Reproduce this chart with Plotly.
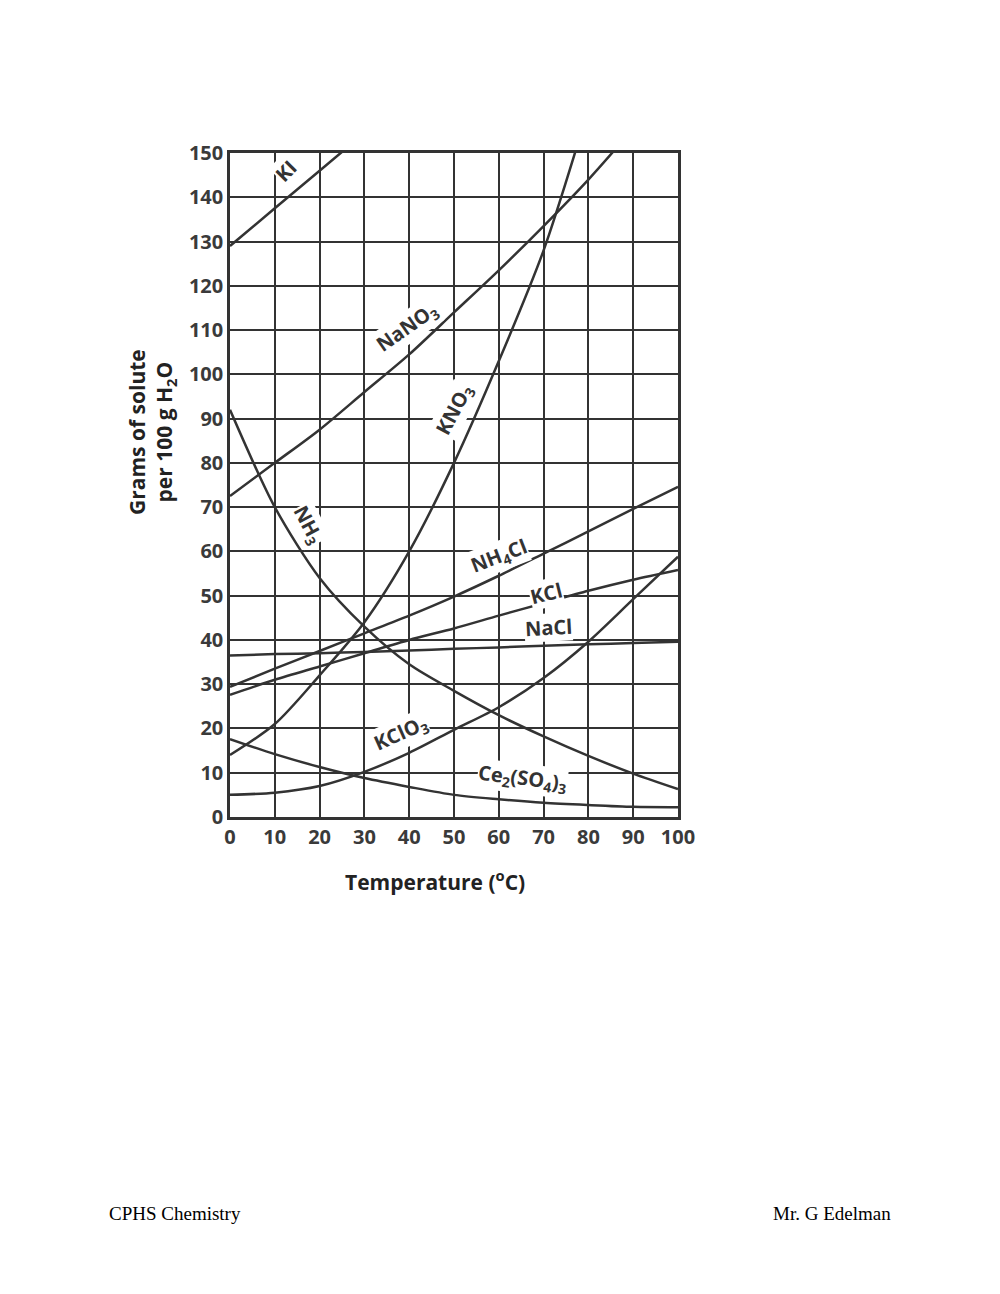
import plotly.graph_objects as go

temps = [0, 10, 20, 30, 40, 50, 60, 70, 80, 90, 100]

ki_t = [0, 10, 20, 30]
ki = [129, 137.5, 146, 154.5]

nano3_t = [0, 10, 20, 30, 40, 50, 60, 70, 80, 90]
nano3 = [72.5, 80, 87.5, 96, 104.5, 114, 123.5, 133.5, 144, 155.5]

kno3_t = [0, 10, 20, 30, 40, 50, 60, 70, 80]
kno3 = [14, 21, 32, 44, 60, 80, 103, 128, 160]

nh3 = [92, 70, 54, 43, 34.5, 28.5, 23, 18.2, 13.8, 9.8, 6.3]
nh4cl = [29.4, 33.5, 37.5, 41.5, 45.5, 49.8, 54.5, 59.5, 64.5, 69.6, 74.6]
kcl = [27.6, 31, 34, 37, 40, 42.6, 45.5, 48.3, 51.1, 53.6, 55.8]
nacl = [36.5, 36.8, 37, 37.3, 37.6, 38, 38.3, 38.7, 39, 39.3, 39.6]
kclo3 = [5, 5.5, 7, 10.2, 14.5, 19.7, 24.8, 31.4, 39.6, 49.2, 58.8]
ce2so43 = [17.6, 14.2, 11.3, 8.8, 6.8, 5, 4, 3.2, 2.7, 2.3, 2.2]

x_ticks = [0, 10, 20, 30, 40, 50, 60, 70, 80, 90, 100]
y_ticks = [0, 10, 20, 30, 40, 50, 60, 70, 80, 90, 100, 110, 120, 130, 140, 150]

labels = [
    # text, x, y, angle
    ("KI", 12.6, 146, -45),
    ("NaNO<sub>3</sub>", 39.6, 110.5, -35),
    ("KNO<sub>3</sub>", 50.2, 92, -62),
    ("NH<sub>3</sub>", 17.3, 66, 62),
    ("NH<sub>4</sub>Cl", 60, 58.8, -21),
    ("KCl", 70.5, 50.6, -14),
    ("NaCl", 71, 42.7, -3),
    ("KClO<sub>3</sub>", 38.2, 18.8, -24),
    ("Ce<sub>2</sub>(SO<sub>4</sub>)<sub>3</sub>", 65.2, 8.8, 7),
]

LC = "#333333"
FONT = "Open Sans"
fig = go.Figure()
series = [
    (ki_t, ki), (nano3_t, nano3), (kno3_t, kno3),
    (temps, nh3), (temps, nh4cl), (temps, kcl), (temps, nacl),
    (temps, kclo3), (temps, ce2so43),
]
for xs, ys in series:
    fig.add_trace(go.Scatter(x=xs, y=ys, mode="lines",
                             line=dict(color=LC, width=2.5, shape="spline", smoothing=0.8),
                             showlegend=False, hoverinfo="skip"))

for text, x, y, ang in labels:
    fig.add_annotation(x=x, y=y, text=text, textangle=ang, showarrow=False,
                       font=dict(family=FONT, size=20, color=LC, weight=700),
                       bgcolor="white", borderpad=0)

fig.add_annotation(xref="paper", yref="paper", x=(152 - 230) / 448, y=(817 - 432) / 664,
                   xanchor="center", yanchor="middle",
                   text="Grams of solute<br>per 100 g H<sub>2</sub>O", textangle=-90,
                   showarrow=False, font=dict(family=FONT, size=21, color="#222222", weight=700),
                   align="center")
fig.add_annotation(xref="paper", yref="paper", x=(435 - 230) / 448, y=-(880 - 817) / 664,
                   xanchor="center", yanchor="middle",
                   text="Temperature (<sup>o</sup>C)", showarrow=False,
                   font=dict(family=FONT, size=21, color="#222222", weight=700))

fig.add_annotation(xref="paper", yref="paper", x=(107 - 230) / 448, y=-(1213 - 817) / 664,
                   text="CPHS Chemistry", showarrow=False, xanchor="left", yanchor="middle",
                   font=dict(family="Liberation Serif", size=19, color="black"))
fig.add_annotation(xref="paper", yref="paper", x=(893 - 230) / 448, y=-(1213 - 817) / 664,
                   text="Mr. G Edelman", showarrow=False, xanchor="right", yanchor="middle",
                   font=dict(family="Liberation Serif", size=19, color="black"))

axis_common = dict(showgrid=True, gridcolor=LC, gridwidth=2.2, showline=True, linecolor=LC,
                   linewidth=2.5, mirror=True, zeroline=False, ticks="",
                   tickfont=dict(family=FONT, size=20, color="#3a3a3a", weight=700))
fig.update_xaxes(range=[0, 100], tickvals=x_ticks, ticktext=[str(v) for v in x_ticks], **axis_common)
fig.update_yaxes(range=[0, 150], tickvals=y_ticks, ticktext=[str(v) for v in y_ticks], **axis_common)

fig.update_layout(width=1000, height=1294, plot_bgcolor="white", paper_bgcolor="white",
                  margin=dict(l=230, r=322, t=153, b=477), showlegend=False)

fig.write_html("out.html")
